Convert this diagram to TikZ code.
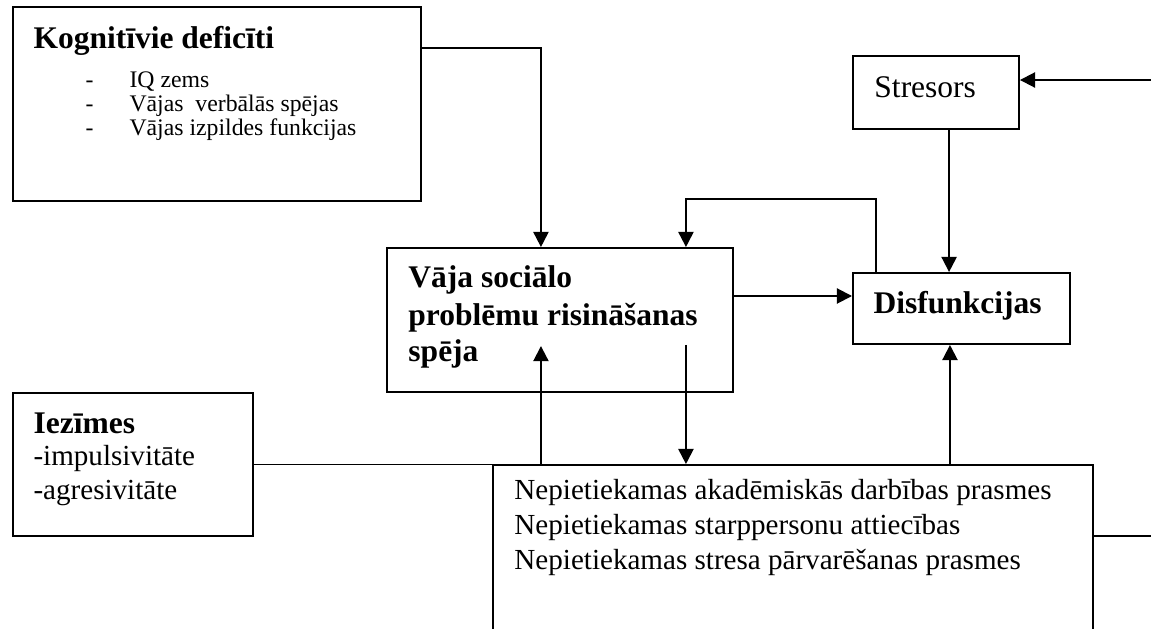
\documentclass[tikz,border=0pt]{standalone}
\usepackage{fontspec}
\setmainfont{Liberation Serif}
\usetikzlibrary{arrows.meta}

\begin{document}
\begin{tikzpicture}[
    box/.style={rectangle,draw,line width=0.8pt,inner sep=0pt},
    txt/.style={anchor=base west,inner sep=0pt,font=\fontsize{12pt}{14pt}\selectfont},
    head/.style={anchor=base west,inner sep=0pt,font=\fontsize{13pt}{15pt}\selectfont\bfseries},
    small/.style={anchor=base west,inner sep=0pt,font=\fontsize{9.8pt}{11pt}\selectfont},
    conn/.style={line width=0.8pt},
    arr/.style={line width=0.8pt,-{Triangle[length=0.22cm,width=0.22cm]}}
]

    % page frame
    \useasboundingbox (0,0) rectangle (16.69,-9.12);
    \clip (0,0) rectangle (16.69,-9.12);

    % cognitive deficits
    \node[box,minimum width=5.916cm,minimum height=2.813cm] (kog) at (3.147,-1.508) {};
    \node[head] (kogT) at (0.479,-0.696) {Kognitīvie deficīti};
    \foreach \t [count=\i] in {IQ zems,Vājas\ \ verbālās spējas,Vājas izpildes funkcijas}{
        \node[small] (kogD\i) at (1.233,-0.914-0.348*\i) {-};
        \node[small] (kogL\i) at (1.871,-0.914-0.348*\i) {\t};
    }

    % weak social problem solving
    \node[box,minimum width=5.017cm,minimum height=2.088cm] (vaja) at (8.12,-4.64) {};
    \node[head] (vajaT1) at (5.916,-4.176) {Vāja sociālo};
    \node[head] (vajaT2) at (5.916,-4.713) {problēmu risināšanas};
    \node[head] (vajaT3) at (5.916,-5.249) {spēja};

    % stressors
    \node[box,minimum width=2.407cm,minimum height=1.059cm] (str) at (13.572,-1.341) {};
    \node[txt,font=\fontsize{13pt}{15pt}\selectfont] (strT) at (12.673,-1.407) {Stresors};

    % dysfunctions
    \node[box,minimum width=3.147cm,minimum height=1.03cm] (dis) at (13.942,-4.473) {};
    \node[head] (disT) at (12.66,-4.54) {Disfunkcijas};

    % signs
    \node[box,minimum width=3.48cm,minimum height=2.074cm] (iez) at (1.929,-6.735) {};
    \node[head] (iezT) at (0.479,-6.279) {Iezīmes};
    \node[txt] (iezL1) at (0.479,-6.757) {-impulsivitāte};
    \node[txt] (iezL2) at (0.479,-7.236) {-agresivitāte};

    % insufficient skills (runs past the bottom edge)
    \node[box,minimum width=8.7cm,minimum height=3cm] (nep) at (11.499,-8.243) {};
    \foreach \t [count=\i] in {Nepietiekamas akadēmiskās darbības prasmes,Nepietiekamas starppersonu attiecības,Nepietiekamas stresa pārvarēšanas prasmes}
        \node[txt] (nepL\i) at (7.453,-6.742-0.5075*\i) {\t};

    %%%%%%%%%%%%%%%%%%%%%%%%%%%%%%%%%%%%%%%%%%%%%%%%%%%%%%

    % deficits into problem solving
    \draw[arr] ([yshift=-0.609cm]kog.north east) -| ([xshift=-0.276cm]vaja.north);

    % feedback from dysfunctions
    \draw[arr] ([xshift=0.348cm]dis.north west) -- ++(0,1.06) -| ([xshift=-0.696cm]vaja.north east);

    % problem solving into dysfunctions
    \coordinate (vo) at ([yshift=0.348cm]vaja.east);
    \draw[arr] (vo) -- (vo -| dis.west);

    % stressors into dysfunctions
    \coordinate (so) at ([xshift=0.19cm]str.south);
    \draw[arr] (so) -- (so |- dis.north);

    % skills into dysfunctions
    \coordinate (di) at ([xshift=-0.167cm]dis.south);
    \draw[arr] (di |- nep.north) -- (di);

    % skills and problem solving
    \coordinate (vi) at ([shift={(-0.276cm,0.68cm)}]vaja.south);
    \draw[arr] (vi |- nep.north) -- (vi);
    \coordinate (vd) at ([shift={(-0.696cm,0.696cm)}]vaja.south east);
    \draw[arr] (vd) -- (vd |- nep.north);

    % signs joined to skills
    \draw[conn] (iez.east) -- (iez.east -| nep.west);

    % right edge: into stressors, out of skills
    \coordinate (rin) at (16.69,-1.16);
    \draw[arr] (rin) -- (rin -| str.east);
    \coordinate (rout) at (16.69,-7.772);
    \draw[conn] (rout -| nep.east) -- (rout);

\end{tikzpicture}
\end{document}
